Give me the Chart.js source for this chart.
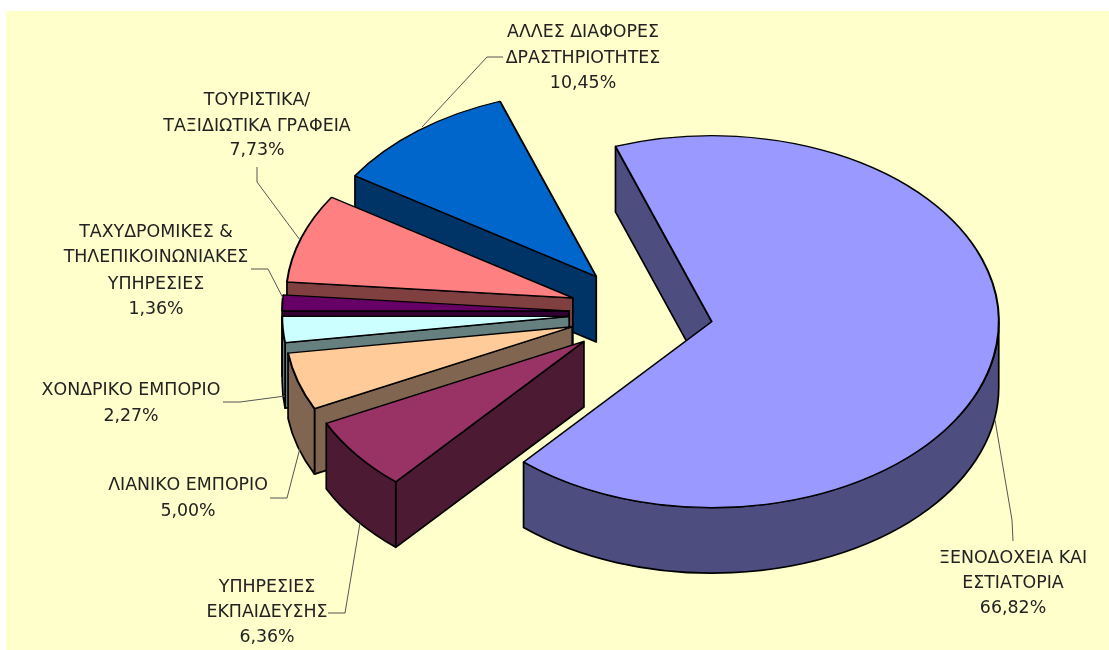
<!DOCTYPE html>
<html>
<head>
<meta charset="utf-8">
<style>
  html, body { margin: 0; padding: 0; background: #fff; }
  #wrap { width: 1109px; height: 650px; position: relative; overflow: hidden; }
  /* the source is a soft scan, take the edge off */
  #pie3d { filter: blur(0.45px); }
</style>
<script src="https://cdn.jsdelivr.net/npm/chart.js@4"></script>
</head>
<body>
<div id="wrap"><canvas id="pie3d" width="1109" height="650"></canvas></div>
<script>
var categories = [
  ["ΞΕΝΟΔΟΧΕΙΑ ΚΑΙ", "ΕΣΤΙΑΤΟΡΙΑ"],
  ["ΥΠΗΡΕΣΙΕΣ", "ΕΚΠΑΙΔΕΥΣΗΣ"],
  ["ΛΙΑΝΙΚΟ ΕΜΠΟΡΙΟ"],
  ["ΧΟΝΔΡΙΚΟ ΕΜΠΟΡΙΟ"],
  ["ΤΑΧΥΔΡΟΜΙΚΕΣ &", "ΤΗΛΕΠΙΚΟΙΝΩΝΙΑΚΕΣ", "ΥΠΗΡΕΣΙΕΣ"],
  ["ΤΟΥΡΙΣΤΙΚΑ/", "ΤΑΞΙΔΙΩΤΙΚΑ ΓΡΑΦΕΙΑ"],
  ["ΑΛΛΕΣ ΔΙΑΦΟΡΕΣ", "ΔΡΑΣΤΗΡΙΟΤΗΤΕΣ"]
];
var shares = [66.82, 6.36, 5.00, 2.27, 1.36, 7.73, 10.45];
var topColors = ["#9999ff", "#993366", "#ffcc99", "#ccffff", "#660066", "#ff8080", "#0066cc"];
var wallColors = ["#4d4d80", "#4d1a33", "#806650", "#668080", "#330033", "#804040", "#003366"];

// label placement: centre x and y of each text line, same order as categories
var labelX = [1013, 267, 188, 131, 156, 257, 583];
var labelY = [
  [558, 583, 608],
  [587, 612, 637],
  [485, 511],
  [390, 416],
  [232, 257, 284, 309],
  [100, 126, 150],
  [32, 58, 83]
];
// leader lines drawn by hand, excel style
var leaders = [
  [[995, 420], [1012, 520], [1013, 541]],
  [[328, 613], [345, 613], [360, 523]],
  [[270, 498], [287, 498], [300, 448]],
  [[223, 402], [240, 402], [285, 396]],
  [[251, 269], [268, 269], [283, 298]],
  [[257, 167], [257, 182], [300, 240]],
  [[503, 57], [487, 57], [422, 127]]
];

var tilt = 0.648;
var depth = 65.5;
var explode = 72;

function drawWalls(chart) {
  var ctx = chart.ctx;
  var cy = (chart.chartArea.top + chart.chartArea.bottom) / 2;
  var arcs = chart.getDatasetMeta(0).data;
  var items = arcs.map(function (arc, i) {
    return {
      i: i,
      a: arc.startAngle,
      b: arc.endAngle,
      r: arc.outerRadius,
      px: arc.x,
      py: cy + (arc.y - cy) * tilt
    };
  });
  // back to front
  items.sort(function (p, q) { return p.py - q.py; });

  ctx.save();
  ctx.strokeStyle = "#000";
  ctx.lineWidth = 1.7;
  ctx.lineJoin = "round";
  items.forEach(function (s) {
    ctx.fillStyle = wallColors[s.i];
    // cut faces that look towards the viewer
    [[s.a, Math.cos(s.a) < 0], [s.b, Math.cos(s.b) > 0]].forEach(function (e) {
      if (!e[1]) return;
      var ex = s.px + Math.cos(e[0]) * s.r;
      var ey = s.py + Math.sin(e[0]) * s.r * tilt;
      ctx.beginPath();
      ctx.moveTo(s.px, s.py);
      ctx.lineTo(ex, ey);
      ctx.lineTo(ex, ey + depth);
      ctx.lineTo(s.px, s.py + depth);
      ctx.closePath();
      ctx.fill();
      ctx.stroke();
    });
    // rim, only the front half of the ellipse
    for (var k = -1; k <= 1; k++) {
      var lo = Math.max(s.a + k * 2 * Math.PI, 0);
      var hi = Math.min(s.b + k * 2 * Math.PI, Math.PI);
      if (hi <= lo) continue;
      ctx.beginPath();
      ctx.ellipse(s.px, s.py, s.r, s.r * tilt, 0, lo, hi);
      ctx.ellipse(s.px, s.py + depth, s.r, s.r * tilt, 0, hi, lo, true);
      ctx.closePath();
      ctx.fill();
      ctx.stroke();
    }
  });
  ctx.restore();
}

var pie3d = {
  id: "pie3d",
  // the offset option also changes the radius per slice, so move the arcs here instead
  afterDatasetsUpdate: function (chart) {
    chart.getDatasetMeta(0).data.forEach(function (arc) {
      var mid = (arc.startAngle + arc.endAngle) / 2;
      arc.x += Math.cos(mid) * explode;
      arc.y += Math.sin(mid) * explode;
    });
  },
  beforeDraw: function (chart) {
    var ctx = chart.ctx;
    ctx.save();
    ctx.fillStyle = "#ffffcc";
    ctx.fillRect(6, 11, 1103, 639);
    ctx.restore();
  },
  beforeDatasetsDraw: function (chart) {
    drawWalls(chart);
    // squash the flat pie into the same ellipse as the walls
    var ctx = chart.ctx;
    var cy = (chart.chartArea.top + chart.chartArea.bottom) / 2;
    ctx.save();
    ctx.translate(0, cy);
    ctx.scale(1, tilt);
    ctx.translate(0, -cy);
  },
  afterDatasetsDraw: function (chart) {
    chart.ctx.restore();
  },
  afterDraw: function (chart) {
    var ctx = chart.ctx;
    ctx.save();
    ctx.strokeStyle = "#555";
    ctx.lineWidth = 1;
    leaders.forEach(function (line) {
      ctx.beginPath();
      line.forEach(function (p, n) {
        if (n === 0) ctx.moveTo(p[0], p[1]);
        else ctx.lineTo(p[0], p[1]);
      });
      ctx.stroke();
    });
    ctx.fillStyle = "#222";
    ctx.font = "17.4px 'DejaVu Sans'";
    ctx.textAlign = "center";
    ctx.textBaseline = "middle";
    categories.forEach(function (lines, i) {
      var all = lines.concat([shares[i].toFixed(2).replace(".", ",") + "%"]);
      all.forEach(function (t, n) {
        ctx.fillText(t, labelX[i], labelY[i][n]);
      });
    });
    ctx.restore();
  }
};

var chart = new Chart(document.getElementById("pie3d").getContext("2d"), {
  type: "pie",
  data: {
    labels: categories.map(function (c) { return c.join(" "); }),
    datasets: [{
      data: shares,
      backgroundColor: topColors,
      borderColor: "#000",
      borderWidth: 2,
      radius: 287,
      clip: false
    }]
  },
  options: {
    responsive: false,
    animation: false,
    rotation: -19.6,
    layout: { padding: { left: 173, bottom: 24 } },
    plugins: { legend: { display: false }, tooltip: { enabled: false } }
  },
  plugins: [pie3d]
});
</script>
</body>
</html>
